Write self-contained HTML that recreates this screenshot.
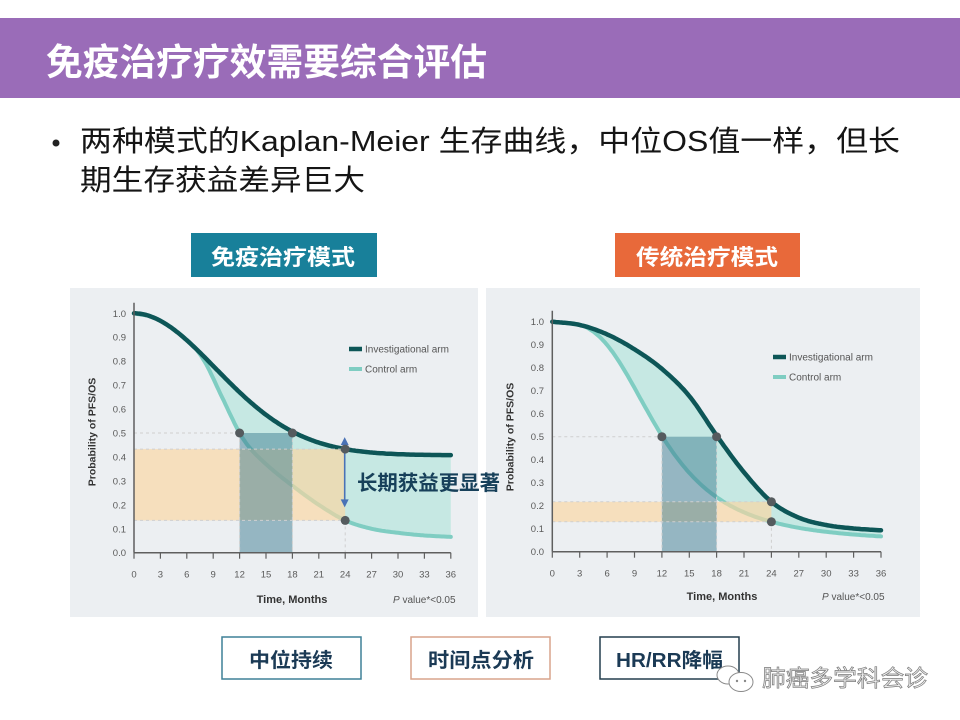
<!DOCTYPE html>
<html><head><meta charset="utf-8">
<style>
html,body{margin:0;padding:0;background:#fff;width:960px;height:720px;overflow:hidden}
svg{display:block}
text{font-family:"Liberation Sans","Noto Sans CJK SC",sans-serif}
</style></head>
<body>
<svg id="s" width="960" height="720" viewBox="0 0 960 720" xmlns="http://www.w3.org/2000/svg">
<rect x="0" y="0" width="960" height="720" fill="#ffffff"/>
<rect x="0" y="18" width="960" height="80" fill="#9a6cb8"/>
<text x="46" y="75" font-size="37" font-weight="bold" fill="#ffffff" textLength="441" lengthAdjust="spacingAndGlyphs">免疫治疗疗效需要综合评估</text>

<circle cx="56" cy="143" r="3.5" fill="#222"/>
<text x="80" y="151" font-size="29" fill="#151515" textLength="820" lengthAdjust="spacingAndGlyphs">两种模式的Kaplan-Meier 生存曲线，中位OS值一样，但长</text>
<text x="80" y="190" font-size="29" fill="#151515" textLength="285" lengthAdjust="spacingAndGlyphs">期生存获益差异巨大</text>

<rect x="191" y="233" width="186" height="44" fill="#18809a"/>
<text x="211" y="265" font-size="22" font-weight="bold" fill="#ffffff" textLength="144" lengthAdjust="spacingAndGlyphs">免疫治疗模式</text>
<rect x="615" y="233" width="185" height="44" fill="#e8693a"/>
<text x="636" y="265" font-size="22" font-weight="bold" fill="#ffffff" textLength="142" lengthAdjust="spacingAndGlyphs">传统治疗模式</text>

<rect x="70" y="288" width="408" height="329" fill="#eceff2"/>
<rect x="486" y="288" width="434" height="329" fill="#eceff2"/>

<g id="L"></g>
<g id="R"></g>

<text x="357" y="490" font-size="20.5" font-weight="bold" fill="#17405a" textLength="143" lengthAdjust="spacingAndGlyphs">长期获益更显著</text>

<rect x="222" y="637" width="139" height="42" fill="#fff" stroke="#3f8197" stroke-width="1.5"/>
<text x="249" y="667" font-size="20" font-weight="bold" fill="#1b3a55" textLength="84" lengthAdjust="spacingAndGlyphs">中位持续</text>
<rect x="411" y="637" width="139" height="42" fill="#fff" stroke="#d8a48c" stroke-width="1.5"/>
<text x="428" y="667" font-size="20" font-weight="bold" fill="#1b3a55" textLength="106" lengthAdjust="spacingAndGlyphs">时间点分析</text>
<rect x="600" y="637" width="139" height="42" fill="#fff" stroke="#243e4e" stroke-width="1.5"/>
<text x="616" y="667" font-size="20" font-weight="bold" fill="#1b3a55" textLength="107" lengthAdjust="spacingAndGlyphs">HR/RR降幅</text>

<ellipse cx="728" cy="675" rx="11" ry="9" fill="#fff" stroke="#8a8a8a" stroke-width="1"/>
<ellipse cx="741" cy="682" rx="12" ry="9.5" fill="#fff" stroke="#8a8a8a" stroke-width="1"/>
<circle cx="737" cy="681" r="1.2" fill="#888"/><circle cx="745" cy="681" r="1.2" fill="#888"/>
<text x="762" y="686" font-size="23" fill="#eeeeee" stroke="#7a7a7a" stroke-width="0.7" textLength="166" lengthAdjust="spacingAndGlyphs">肺癌多学科会诊</text>
</svg>

<script>
(function(){
const NS="http://www.w3.org/2000/svg";
function el(p,tag,a,txt){const e=document.createElementNS(NS,tag);for(const k in a)e.setAttribute(k,a[k]);if(txt!=null)e.textContent=txt;p.appendChild(e);return e;}
function interp(pts){
  const n=pts.length,xs=pts.map(p=>p[0]),ys=pts.map(p=>p[1]);const d=[],m=[];
  for(let i=0;i<n-1;i++)d.push((ys[i+1]-ys[i])/(xs[i+1]-xs[i]));
  m[0]=d[0];m[n-1]=d[n-2];
  for(let i=1;i<n-1;i++){m[i]=(d[i-1]*d[i]<=0)?0:(d[i-1]+d[i])/2;}
  for(let i=0;i<n-1;i++){if(d[i]===0){m[i]=0;m[i+1]=0;continue;}const a=m[i]/d[i],b=m[i+1]/d[i],s=a*a+b*b;if(s>9){const t=3/Math.sqrt(s);m[i]=t*a*d[i];m[i+1]=t*b*d[i];}}
  return function(x){let i=0;while(i<n-2&&x>xs[i+1])i++;const h=xs[i+1]-xs[i],t=(x-xs[i])/h,t2=t*t,t3=t2*t;
    return (2*t3-3*t2+1)*ys[i]+(t3-2*t2+t)*h*m[i]+(-2*t3+3*t2)*ys[i+1]+(t3-t2)*h*m[i+1];};
}
function chart(g,c){
  const X=m=>c.x0+m*c.xs,Y=p=>c.y0-p*c.ys;
  const fd=c.dark, fl0=c.light, fl=t=>Math.min(fd(t),fl0(t));
  const dp=[],lp=[];
  for(let m=0;m<=36.0001;m+=0.2){dp.push([X(m),Y(fd(m))]);lp.push([X(m),Y(fl(m))]);}
  const f=v=>v.toFixed(1);
  const toPath=a=>a.map((p,i)=>(i?'L':'M')+f(p[0])+' '+f(p[1])).join('');
  for(let i=0;i<=10;i++){el(g,'text',{x:c.lx,y:f(Y(i/10)+3.5),'font-size':9.5,fill:'#5a5a5a','text-anchor':'end'},(i/10).toFixed(1));}
  el(g,'path',{d:toPath(dp)+lp.slice().reverse().map(p=>'L'+f(p[0])+' '+f(p[1])).join('')+'Z',fill:'#bde6df','fill-opacity':0.8});
  el(g,'path',{d:toPath(lp),fill:'none',stroke:'#7fcdc2','stroke-width':4,'stroke-linecap':'round','stroke-linejoin':'round'});
  el(g,'path',{d:toPath(dp),fill:'none',stroke:'#0d5657','stroke-width':4.5,'stroke-linecap':'round','stroke-linejoin':'round'});
  const d24=Y(fd(24)),l24=Y(fl(24)),y5=Y(0.5);
  el(g,'rect',{x:c.x0,y:f(d24),width:f(X(24)-c.x0),height:f(l24-d24),fill:'#fcd5a0','fill-opacity':0.65});
  el(g,'rect',{x:f(X(12)),y:f(y5),width:f(X(18)-X(12)),height:f(c.y0-y5),fill:'#3e7d92','fill-opacity':0.5});
  const ds={stroke:'#cfcfcf','stroke-width':1,'stroke-dasharray':'3 3',fill:'none'};
  function dl(x1,y1,x2,y2){el(g,'line',Object.assign({x1:f(x1),y1:f(y1),x2:f(x2),y2:f(y2)},ds));}
  dl(c.x0,y5,X(12),y5);
  dl(c.x0,d24,X(24),d24);
  dl(c.x0,l24,X(24),l24);
  dl(X(24),l24,X(24),c.y0);
  dl(X(12),y5,X(12),c.y0);
  dl(X(18),y5,X(18),c.y0);
  if(c.arrow){
    const ax=X(24)-0.5,t=d24-12,b=l24-13;
    el(g,'line',{x1:ax,y1:t+6,x2:ax,y2:b-6,stroke:'#4a72b6','stroke-width':1.6});
    el(g,'path',{d:'M'+ax+' '+t+' L'+(ax-4)+' '+(t+8)+' L'+(ax+4)+' '+(t+8)+'Z',fill:'#4a72b6'});
    el(g,'path',{d:'M'+ax+' '+b+' L'+(ax-4)+' '+(b-8)+' L'+(ax+4)+' '+(b-8)+'Z',fill:'#4a72b6'});
  }
  [[X(12),y5],[X(18),y5],[X(24),d24],[X(24),l24]].forEach(p=>el(g,'circle',{cx:f(p[0]),cy:f(p[1]),r:4.5,fill:'#555b5e'}));
  el(g,'line',{x1:c.x0,y1:c.ytop,x2:c.x0,y2:c.y0,stroke:'#5f5f5f','stroke-width':1.5});
  el(g,'line',{x1:c.x0,y1:c.y0,x2:f(X(36)),y2:c.y0,stroke:'#5f5f5f','stroke-width':1.5});
  for(let m=0;m<=36;m+=3){
    el(g,'line',{x1:f(X(m)),y1:c.y0,x2:f(X(m)),y2:c.y0+6,stroke:'#5f5f5f','stroke-width':1.2});
    el(g,'text',{x:f(X(m)),y:c.y0+25,'font-size':9.5,fill:'#5a5a5a','text-anchor':'middle'},String(m));
  }
  el(g,'text',{transform:'translate('+c.ylx+','+c.yly+') rotate(-90)',y:3.5,'font-size':10.5,'font-weight':'bold',fill:'#333','text-anchor':'middle'},'Probability of PFS/OS');
  el(g,'text',{x:c.tx,y:c.ty,'font-size':11,'font-weight':'bold',fill:'#333','text-anchor':'middle'},'Time, Months');
  const pv=el(g,'text',{x:c.px,y:c.ty,'font-size':10,fill:'#555'});
  const ps=document.createElementNS(NS,'tspan');ps.setAttribute('font-style','italic');ps.textContent='P';pv.appendChild(ps);
  const ps2=document.createElementNS(NS,'tspan');ps2.textContent=' value*<0.05';pv.appendChild(ps2);
  el(g,'line',{x1:c.gx,y1:c.gy,x2:c.gx+13,y2:c.gy,stroke:'#0d5657','stroke-width':4.5});
  el(g,'line',{x1:c.gx,y1:c.gy+20,x2:c.gx+13,y2:c.gy+20,stroke:'#7fcdc2','stroke-width':4});
  el(g,'text',{x:c.gx+16,y:c.gy+3.5,'font-size':10,fill:'#555'},'Investigational arm');
  el(g,'text',{x:c.gx+16,y:c.gy+23.5,'font-size':10,fill:'#555'},'Control arm');
}
const leftDark=t=>0.407+0.593*Math.exp(-Math.pow(t/13.35,1.95));
const leftLight=interp([[0,1],[3,0.975],[6,0.895],[8,0.8],[10,0.65],[12,0.5],[13,0.445],[15,0.37],[18,0.28],[21,0.2],[24,0.135],[27,0.1],[30,0.083],[33,0.072],[36,0.066]]);
const rightDark=interp([[0,1],[3,0.986],[6,0.945],[9,0.88],[12,0.795],[15,0.677],[18,0.505],[21,0.345],[24,0.217],[27,0.148],[30,0.116],[33,0.101],[36,0.093]]);
const rightLight=t=>0.04+0.96/(1+Math.pow(t/11.76,3.18));
chart(document.getElementById('L'),{
  x0:134,xs:8.8,y0:552.7,ys:239.4,ytop:302.7,lx:126,ylx:92,yly:432,tx:292,ty:603,px:393,gx:349,gy:349,arrow:true,
  dark:leftDark, light:leftLight
});
chart(document.getElementById('R'),{
  x0:552.3,xs:9.13,y0:551.7,ys:230,ytop:310.7,lx:544,ylx:510,yly:437,tx:722,ty:600,px:822,gx:773,gy:357,arrow:false,
  dark:rightDark, light:rightLight
});
})();
</script>
</body></html>
